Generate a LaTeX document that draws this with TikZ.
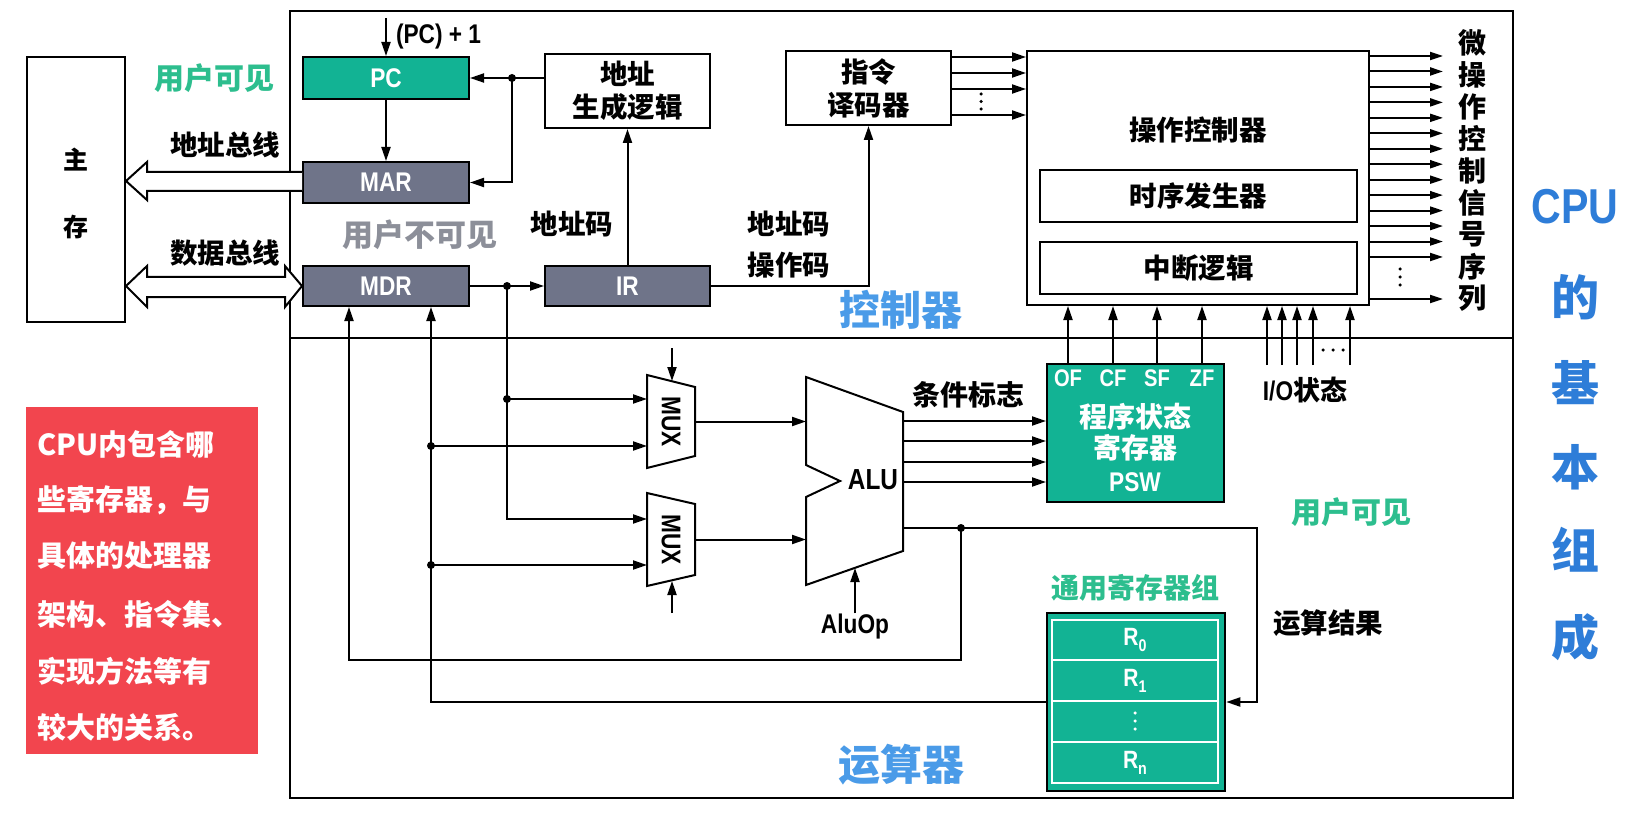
\documentclass[tikz,border=0pt]{standalone}
\usepackage{fontspec}
\usetikzlibrary{arrows.meta}
\newfontfamily\cjk{Noto Sans CJK SC}
\newfontfamily\lat[FakeStretch=0.84]{Liberation Sans}
\definecolor{teal1}{RGB}{18,179,148}
\definecolor{slate}{RGB}{111,116,137}
\definecolor{ugreen}{RGB}{45,190,142}
\definecolor{ugray}{RGB}{140,143,153}
\definecolor{lblue}{RGB}{74,155,232}
\definecolor{dblue}{RGB}{46,125,216}
\definecolor{redbox}{RGB}{242,69,78}
\newcommand\fsz[1]{\fontsize{#1}{#1}\selectfont}
\begin{document}
\begin{tikzpicture}[x=1pt,y=-1pt,line width=2pt,
  >={Triangle[length=14pt,width=9pt]},
  rect/.style={draw,line width=2pt,inner sep=0pt},
  cn/.style={font={\cjk\bfseries\fsz{27.5}},inner sep=0pt},
  la/.style={font={\lat\bfseries\fsz{27}},inner sep=0pt},
  dot/.style={circle,fill=black,inner sep=0pt,minimum size=8pt},
  sdot/.style={circle,fill=#1,inner sep=0pt,minimum size=3.5pt}]
\useasboundingbox (0,0) rectangle (1643,826);
\fill[white] (0,0) rectangle (1643,826);

% outer CPU box and divider
\draw[line width=2pt] (290,11) rectangle (1513,798);
\coordinate (divl) at (290,338);
\coordinate (divr) at (1513,338);
\draw (divl) -- (divr);

% main memory
\node[rect,minimum width=98pt,minimum height=265pt] (mem) at (76,189.5) {};
\node[cn,font={\cjk\bfseries\fsz{25}}] at (76,160) {主};
\node[cn,font={\cjk\bfseries\fsz{25}}] at (76,227) {存};

% registers
\node[rect,fill=teal1,minimum width=166pt,minimum height=42pt,text=white,la] (pc) at (386,78) {PC};
\node[rect,fill=slate,minimum width=166pt,minimum height=41pt,text=white,la] (mar) at (386,182.5) {MAR};
\node[rect,fill=slate,minimum width=166pt,minimum height=40pt,text=white,la] (mdr) at (386,286) {MDR};
\node[rect,minimum width=165pt,minimum height=74pt,align=center,cn,font={\cjk\bfseries\fsz{27.5}\baselineskip=33pt}] (alog) at (627.5,91) {地址\\生成逻辑};
\node[rect,fill=slate,minimum width=165pt,minimum height=40pt,text=white,la] (ir) at (627.5,286) {IR};
\node[rect,minimum width=165pt,minimum height=74pt,align=center,cn,font={\cjk\bfseries\fsz{27.5}\baselineskip=33pt}] (dec) at (868.5,88) {指令\\译码器};
\node[rect,minimum width=342pt,minimum height=254pt] (ctl) at (1198,178) {};
\node[cn] at (1198,130) {操作控制器};
\node[rect,minimum width=317pt,minimum height=52pt,cn] (tim) at (1198.5,196) {时序发生器};
\node[rect,minimum width=317pt,minimum height=52pt,cn] (intr) at (1198.5,268) {中断逻辑};
\node[rect,fill=teal1,minimum width=177pt,minimum height=138pt] (psw) at (1135.5,433) {};
\foreach \x/\t in {1068/OF,1113/CF,1157/SF,1202/ZF}
  \node[la,font={\lat\bfseries\fsz{24}},text=white] at (\x,378) {\t};
\node[cn,text=white,font={\cjk\bfseries\fsz{28}}] at (1135,417) {程序状态};
\node[cn,text=white,font={\cjk\bfseries\fsz{28}}] at (1135,448) {寄存器};
\node[la,text=white,font={\lat\bfseries\fsz{27}}] at (1135,482) {PSW};

% register group
\node[rect,fill=teal1,line width=2.5pt,minimum width=178pt,minimum height=178pt] (reg) at (1136,702) {};
\foreach \a/\b in {620/660,660/701,701/742,742/783}
  \draw[white,line width=1.5pt] (1052,\a) rectangle (1218,\b);
\node[la,text=white,font={\lat\bfseries\fsz{25}}] at (1135,640) {R\raisebox{-0.45ex}{\fsz{17}0}};
\node[la,text=white,font={\lat\bfseries\fsz{25}}] at (1135,681) {R\raisebox{-0.45ex}{\fsz{17}1}};
\foreach \y in {713,721,729}
  \node[sdot=white] at (1135,\y) {};
\node[la,text=white,font={\lat\bfseries\fsz{25}}] at (1135,763) {R\raisebox{-0.45ex}{\fsz{17}n}};
\node[cn,text=ugreen,font={\cjk\bfseries\fsz{28}}] at (1135,588) {通用寄存器组};

% MUXes and ALU
\coordinate (m1a) at (647,375); \coordinate (m1b) at (695,387);
\coordinate (m1c) at (695,456); \coordinate (m1d) at (647,468);
\draw[fill=white] (m1a) -- (m1b) -- (m1c) -- (m1d) -- cycle;
\node[la,rotate=-90,font={\lat\bfseries\fsz{27}}] (mux1) at (671,421.5) {MUX};
\coordinate (m2a) at (647,493); \coordinate (m2b) at (695,504);
\coordinate (m2c) at (695,575); \coordinate (m2d) at (647,586);
\draw[fill=white] (m2a) -- (m2b) -- (m2c) -- (m2d) -- cycle;
\node[la,rotate=-90,font={\lat\bfseries\fsz{27}}] (mux2) at (671,539.5) {MUX};
\coordinate (a1) at (806,377); \coordinate (a2) at (903,412);
\coordinate (a3) at (903,551); \coordinate (a4) at (806,585);
\coordinate (a5) at (806,497); \coordinate (a6) at (840,481);
\coordinate (a7) at (806,465);
\draw[fill=white,line join=miter] (a1) -- (a2) -- (a3) -- (a4) -- (a5) -- (a6) -- (a7) -- cycle;
\node[la,font={\lat\bfseries\fsz{29}}] (alu) at (873,480) {ALU};

% address bus (hollow arrow)
\draw[fill=white,line join=miter] (mar.west |- 0,172) -- (147,172) -- (147,162) -- (mem.east |- 0,181) -- (147,200) -- (147,191) -- (mar.west |- 0,191);
% data bus (double hollow arrow)
\draw[fill=white,line join=miter] (mem.east |- 0,286) -- (147,266) -- (147,277) -- (285,277) -- (285,266) -- (mdr.west) -- (285,307) -- (285,297) -- (147,297) -- (147,307) -- cycle;

% top connectors
\coordinate (pcin) at (386,18);
\draw[->] (pcin) -- (pc.north);
\draw[->] (pc.south) -- (mar.north);
\node[dot] (j1) at (512,78) {};
\draw[->] (alog.west |- pc.east) -- (pc.east);
\draw[->] (j1.center) |- (mar.east);
\draw[->] (ir.north) -- (alog.south);
\draw[->] (mdr.east) -- (ir.west);
\node[dot] (j2) at (507,286) {};
\draw[->] (ir.east) -| (dec.south);
\foreach \y in {57,73,89,115}
  \draw[->] (dec.east |- 0,\y) -- (ctl.west |- 0,\y);
\foreach \y in {94,101.5,109}
  \node[sdot=black] at (981,\y) {};

% micro-operation outputs
\coordinate (moend) at (1443,0);
\foreach \i in {0,...,13}{
  \pgfmathsetmacro\yy{56+\i*15.46}
  \draw[-{Triangle[length=13pt,width=8pt]}] (ctl.east |- 0,\yy) -- (moend |- 0,\yy);
}
\draw[-{Triangle[length=13pt,width=8pt]}] (ctl.east |- 0,299) -- (moend |- 0,299);
\foreach \y in {269,277,285}
  \node[sdot=black] at (1400,\y) {};
\foreach \c [count=\k from 0] in {微,操,作,控,制,信,号,序,列}
  \node[cn,font={\cjk\bfseries\fsz{28}}] at (1472,43+\k*31.9) {\c};

% flags to controller
\foreach \x in {1068,1113,1157,1202}
  \draw[->] (psw.north -| \x,0) -- (ctl.south -| \x,0);
% I/O state
\foreach \x in {1267,1282,1297,1313,1350}
  \draw[->] (\x,365) -- (ctl.south -| \x,0);
\foreach \x in {1323,1333,1343}
  \node[sdot=black] at (\x,350) {};

% data path
\node[dot] (j3) at (507,399) {};
\coordinate (m2in1) at (647,519);
\draw (j2.center) -- (j3.center);
\draw[->] (j3.center) -- (m1a |- j3);
\draw[->] (j3.center) |- (m2in1);
\node[dot] (j4) at (431,446) {};
\node[dot] (j6) at (431,565) {};
\draw[->] (j4.center) -- (m1a |- j4);
\draw[->] (j6.center) -- (m2a |- j6);
\coordinate (c2) at (431,0);
\draw[->] (reg.west) -| (c2 |- mdr.south);
\coordinate (m1o) at (695,421.5);
\coordinate (m2o) at (695,539.5);
\draw[->] (m1o) -- (a1 |- m1o);
\draw[->] (m2o) -- (a1 |- m2o);
\coordinate (s1) at (672,348);
\coordinate (s2) at (672,613);
\draw[->] (s1) -- (672,381);
\draw[->] (s2) -- (672,581);
\foreach \y in {421,441,462,482}
  \draw[->] (a2 |- 0,\y) -- (psw.west |- 0,\y);
\coordinate (aluout) at (903,528);
\coordinate (rr) at (1257,528);
\draw[->] (aluout) -- (rr) |- (reg.east);
\node[dot] (j5) at (961,528) {};
\coordinate (c1) at (349,660);
\draw[->] (j5.center) |- (c1) -- (c1 |- mdr.south);
\node[la,font={\lat\bfseries\fsz{27}}] (aluop) at (855,627) {AluOp};
\draw[->] (aluop.north) -- (855,568);

% labels
\node[la,anchor=west,font={\lat\bfseries\fsz{27}}] at (395,37) {(PC) + 1};
\node[cn,text=ugreen,font={\cjk\bfseries\fsz{30}}] at (214,78) {用户可见};
\node[cn] at (225,145) {地址总线};
\node[cn] at (225,253) {数据总线};
\node[cn,text=ugray,font={\cjk\bfseries\fsz{31}}] at (420,235) {用户不可见};
\node[cn] at (572,224) {地址码};
\node[cn] at (789,224) {地址码};
\node[cn] at (789,265) {操作码};
\node[cn,text=lblue,font={\cjk\bfseries\fsz{41}}] at (901,310) {控制器};
\node[cn,text=lblue,font={\cjk\bfseries\fsz{42}}] at (901,765) {运算器};
\node[cn,font={\cjk\bfseries\fsz{28}}] at (968,395) {条件标志};
\node[cn] at (1328,623) {运算结果};
\node[cn,font={\cjk\bfseries\fsz{27}}] (io) at (1305,390) {\lat I/O\cjk 状态};
\node[cn,text=ugreen,font={\cjk\bfseries\fsz{30}}] at (1351,512) {用户可见};

% title
\node[la,text=dblue,font={\lat\bfseries\fsz{49}}] at (1575,207) {CPU};
\foreach \c/\y in {的/297,基/383,本/467,组/550,成/637}
  \node[cn,text=dblue,font={\cjk\bfseries\fsz{48}}] at (1575,\y) {\c};

% red note
\node[fill=redbox,minimum width=232pt,minimum height=347pt,inner sep=0pt] (note) at (142,580.5) {};
\foreach \t/\y in {CPU内包含哪/444,些寄存器，与/500,具体的处理器/556,架构、指令集、/614,实现方法等有/671,较大的关系。/727}
  \node[cn,text=white,font={\cjk\bfseries\fsz{29}},anchor=west] at (note.west |- 0,\y) [xshift=11pt] {\t};
\end{tikzpicture}
\end{document}
